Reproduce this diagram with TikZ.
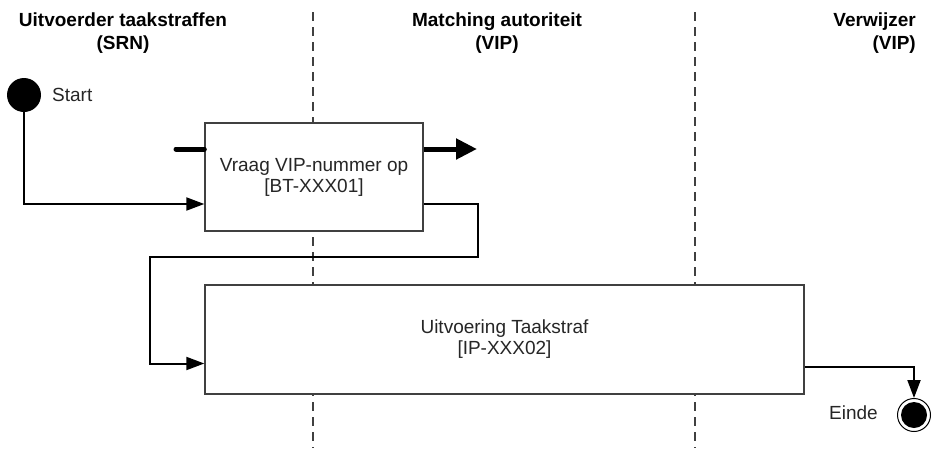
\documentclass[tikz,border=0pt]{standalone}
\usepackage{fontspec}
\setmainfont{Liberation Sans}
\usetikzlibrary{arrows.meta}
\tikzset{
  txt/.style={font=\fontsize{19}{22}\selectfont, text=black!85, inner sep=2pt, align=center},
  hdr/.style={font=\fontsize{19}{23}\selectfont\bfseries, text=black, inner sep=0pt, align=center},
  box/.style={draw=black!75, line width=1.4pt, fill=white, rectangle, inner sep=0pt,
    font=\fontsize{19}{21}\selectfont, text=black!85, align=center},
  lane/.style={draw=black!75, line width=1.3pt, dash pattern=on 9pt off 6pt},
  conn/.style={draw=black, line width=2pt, -{Triangle[length=18pt,width=13pt]}},
  thickln/.style={draw=black, line width=5pt},
}
\begin{document}
\begin{tikzpicture}[x=1pt,y=-1pt]
\path[use as bounding box] (0,0) rectangle (932,448);
% lanes
\draw[lane] (313,12) -- (313,448);
\draw[lane] (695,12) -- (695,448);
% headers
\node[hdr] (h1) at (123,33) {Uitvoerder taakstraffen\\(SRN)};
\node[hdr] (h2) at (497,33) {Matching autoriteit\\(VIP)};
\node[hdr, anchor=east, align=right] (h3) at (916,33) {Verwijzer\\(VIP)};
% start
\node[circle, fill=black, minimum size=34pt, inner sep=0pt] (start) at (24,95) {};
\node[txt, anchor=west] (starttxt) at (50,95) {Start};
% boxes
\node[box, minimum width=218pt, minimum height=108pt] (b1) at (314,177) {Vraag VIP-nummer op\\{[BT-XXX01]}};
\node[box, minimum width=599pt, minimum height=109pt] (b2) at (504.5,339.5) {Uitvoering Taakstraf\\{[IP-XXX02]}};
% end
\node[circle, draw=black, line width=1pt, minimum size=33pt, inner sep=0pt,
  path picture={\fill[black] (path picture bounding box.center) circle (13pt);}] (einde) at (914,415) {};
\node[txt, anchor=east] (eindetxt) at (880,413) {Einde};
% thick lines
\coordinate (tin) at (176,149);
\coordinate (tout) at (477,149);
\draw[thickln, line cap=round] (tin) -- (tin -| b1.west);
\draw[thickln, -{Triangle[length=21pt,width=20pt]}] (tout -| b1.east) -- (tout);
% connectors
\draw[conn] (start.south) |- ([yshift=-27pt]b1.west);
\draw[conn] ([yshift=-27pt]b1.east) -- ++(54,0) |- (150,257) |- ([yshift=-24pt]b2.west);
\draw[conn] ([yshift=-27.5pt]b2.east) -| (einde.north);
\end{tikzpicture}
\end{document}
